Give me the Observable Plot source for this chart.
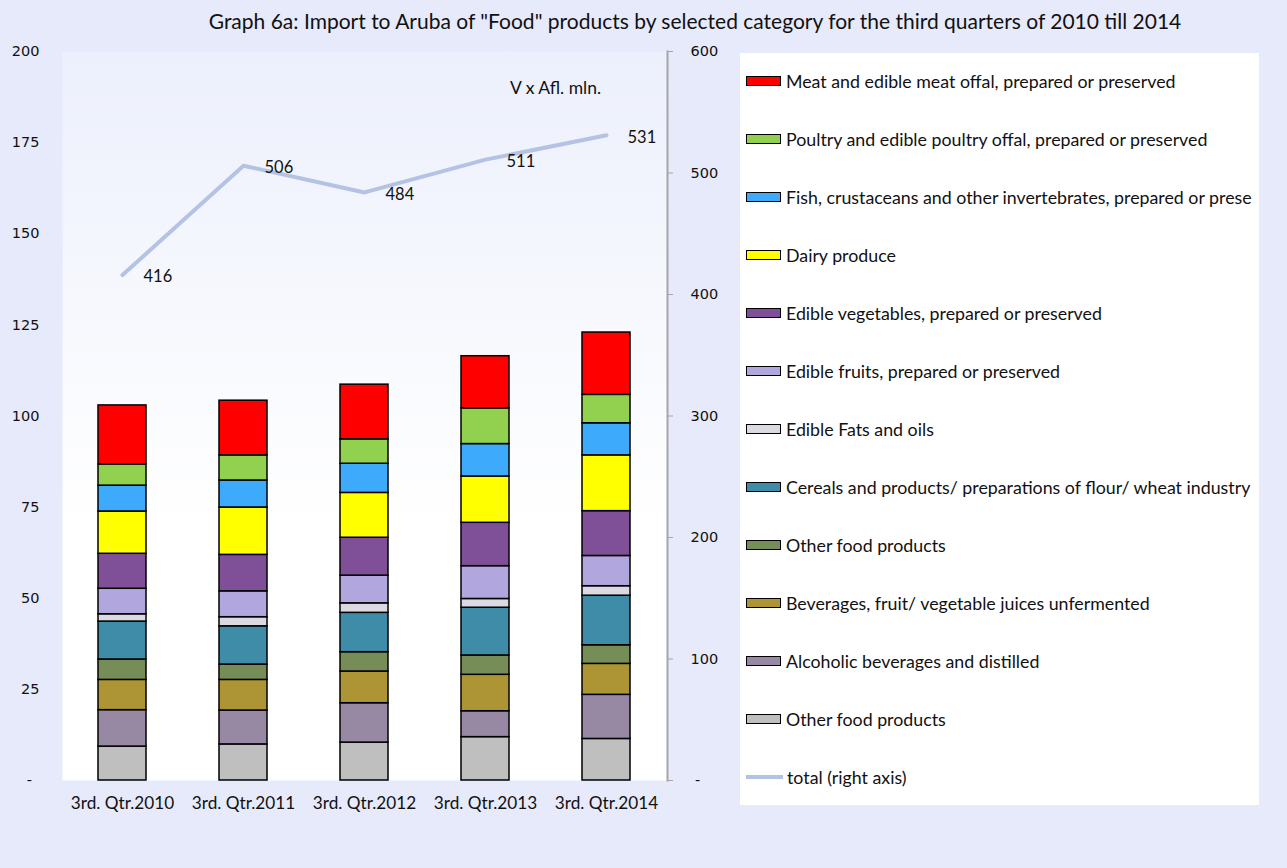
<!DOCTYPE html>
<html>
<head>
<meta charset="utf-8">
<script src="https://cdn.jsdelivr.net/npm/d3@7"></script>
<script src="https://cdn.jsdelivr.net/npm/@observablehq/plot@0.6"></script>
<style>
  html, body { margin: 0; padding: 0; }
  body { width: 1287px; height: 868px; background: #E6EAFB; overflow: hidden; }
  #wrap { position: relative; width: 1287px; height: 868px; }
  #title { position: absolute; top: 8px; left: 695px; transform: translateX(-50%); white-space: nowrap;
           font-family: Lato, sans-serif; font-size: 21px; color: #111; }
  #chart { position: absolute; left: 0; top: 0; }
  #unit { position: absolute; left: 510px; top: 77px; font-family: Lato, sans-serif; font-size: 17.5px; color: #111; white-space: nowrap; }
  #legend { position: absolute; left: 740px; top: 53px; width: 519px; height: 752px; background: #fff; overflow: hidden; }
  .item { position: absolute; left: 6px; height: 22px; display: flex; align-items: center; white-space: nowrap;
          font-family: Lato, sans-serif; font-size: 17.8px; color: #111; }
  .sw { width: 33px; height: 8px; border: 1.5px solid #000; margin-right: 5px; box-sizing: content-box; flex: none; }
  .ln { width: 37px; height: 4px; margin-right: 4px; flex: none; }
</style>
</head>
<body>
<div id="wrap">
  <div id="title">Graph 6a: Import to Aruba of "Food" products by selected category for the third quarters of 2010 till 2014</div>
  <div id="chart"></div>
  <div id="unit">V x Afl. mln.</div>
  <div id="legend"></div>
</div>
<script>
// ---- data ----
const quarters = ["3rd. Qtr.2010", "3rd. Qtr.2011", "3rd. Qtr.2012", "3rd. Qtr.2013", "3rd. Qtr.2014"];

// series listed bottom-to-top of the stack
const seriesNames = [
  "Other food products",
  "Alcoholic beverages and distilled",
  "Beverages, fruit/ vegetable juices unfermented",
  "Other food products",
  "Cereals and products/ preparations of flour/ wheat industry",
  "Edible Fats and oils",
  "Edible fruits, prepared or preserved",
  "Edible vegetables, prepared or preserved",
  "Dairy produce",
  "Fish, crustaceans and other invertebrates, prepared or prese",
  "Poultry and edible poultry offal, prepared or preserved",
  "Meat and edible meat offal, prepared or preserved"
];
const seriesColors = [
  "#BFBFBF", "#9788A3", "#AD9535", "#778D57", "#3E8CA8", "#DDD9E3",
  "#B2A6DE", "#7F4F97", "#FFFF00", "#3DAAFC", "#92D050", "#FF0000"
];

const otherFoodGray  = [9.3, 9.9, 10.4, 11.9, 11.4];
const alcoholic      = [10.0, 9.3, 10.8, 7.1, 12.1];
const beverages      = [8.3, 8.4, 8.7, 10.0, 8.5];
const otherFoodGreen = [5.6, 4.2, 5.3, 5.3, 5.1];
const cereals        = [10.4, 10.5, 10.8, 13.1, 13.6];
const fats           = [2.0, 2.5, 2.6, 2.4, 2.6];
const fruits         = [7.0, 7.1, 7.6, 9.0, 8.3];
const vegetables     = [9.6, 10.0, 10.4, 11.9, 12.3];
const dairy          = [11.6, 13.0, 12.3, 12.7, 15.3];
const fish           = [7.1, 7.4, 8.0, 8.9, 8.8];
const poultry        = [5.8, 6.9, 6.7, 9.8, 7.8];
const meat           = [16.2, 15.0, 15.0, 14.3, 17.1];

const totals = [416, 506, 484, 511, 531];

const leftTicks = [0, 25, 50, 75, 100, 125, 150, 175, 200];
const rightTicks = [0, 100, 200, 300, 400, 500, 600];

// ---- build tables ----
const seriesValues = [otherFoodGray, alcoholic, beverages, otherFoodGreen, cereals, fats,
                      fruits, vegetables, dairy, fish, poultry, meat];
const rows = [];
seriesValues.forEach((vals, si) => {
  vals.forEach((v, qi) => rows.push({q: quarters[qi], value: v, color: seriesColors[si], s: si}));
});
const totalRows = totals.map((t, i) => ({q: quarters[i], total: t}));
const ratio = rightTicks[rightTicks.length - 1] / leftTicks[leftTicks.length - 1];

const chart = Plot.plot({
  width: 737,
  height: 830,
  marginTop: 51,
  marginBottom: 50,
  marginLeft: 62,
  marginRight: 70,
  style: {background: "transparent", color: "#111"},
  x: {domain: quarters, paddingInner: 0.6, paddingOuter: 0.3, label: null},
  y: {domain: [0, 200], label: null},
  color: {type: "identity"},
  marks: [
    Plot.frame({fill: "url(#plotbg)", stroke: "none"}),
    Plot.barY(rows, {x: "q", y: "value", fill: "color", stroke: "#000", strokeWidth: 1.5}),
    Plot.line(totalRows, {x: "q", y: d => d.total / ratio, stroke: "#B4C2E4", strokeWidth: 4}),
    Plot.text(totalRows, {x: "q", y: d => d.total / ratio, text: d => String(d.total), textAnchor: "start",
      dx: 21, dy: 2, fontFamily: "Lato, sans-serif", fontSize: 16.5, fill: "#111"}),
    Plot.axisY(leftTicks, {anchor: "left", tickSize: 0, tickPadding: 23, label: null,
      tickFormat: v => v === 0 ? "-\u00A0\u2009" : String(v), fontFamily: "DejaVu Sans, Verdana, sans-serif", fontSize: 14.5}),
    Plot.frame({anchor: "right", stroke: "#A6A6A6", strokeWidth: 2}),
    Plot.axisY(rightTicks.map(v => v / ratio), {anchor: "right", tickSize: 5, tickPadding: 18, label: null,
      stroke: "#A6A6A6", textAnchor: "start",
      tickFormat: v => { const r = Math.round(v * ratio); return r === 0 ? "\u00A0-" : String(r); },
      fontFamily: "DejaVu Sans, Verdana, sans-serif", fontSize: 14.5}),
    Plot.axisX({tickSize: 0, tickPadding: 16, label: null, fontFamily: "Lato, sans-serif", fontSize: 17.2})
  ]
});

const svg = d3.select(chart);
svg.insert("defs", ":first-child").html(
  '<linearGradient id="plotbg" x1="0" y1="0" x2="0" y2="1">' +
  '<stop offset="0" stop-color="#ECF0FC"/><stop offset="0.65" stop-color="#FFFFFF"/><stop offset="1" stop-color="#FFFFFF"/>' +
  '</linearGradient>');
document.getElementById("chart").appendChild(chart);

// ---- legend (top to bottom = reverse of stack order) ----
const legend = document.getElementById("legend");
const order = seriesNames.map((n, i) => i).reverse();
order.forEach((si, k) => {
  const it = document.createElement("div");
  it.className = "item";
  it.style.top = (17 + 58 * k) + "px";
  const sw = document.createElement("div");
  sw.className = "sw";
  sw.style.background = seriesColors[si];
  it.appendChild(sw);
  it.appendChild(document.createTextNode(seriesNames[si]));
  legend.appendChild(it);
});
const li = document.createElement("div");
li.className = "item";
li.style.top = (17 + 58 * order.length) + "px";
const ln = document.createElement("div");
ln.className = "ln";
ln.style.background = "#B4C2E4";
li.appendChild(ln);
li.appendChild(document.createTextNode("total (right axis)"));
legend.appendChild(li);
</script>
</body>
</html>
